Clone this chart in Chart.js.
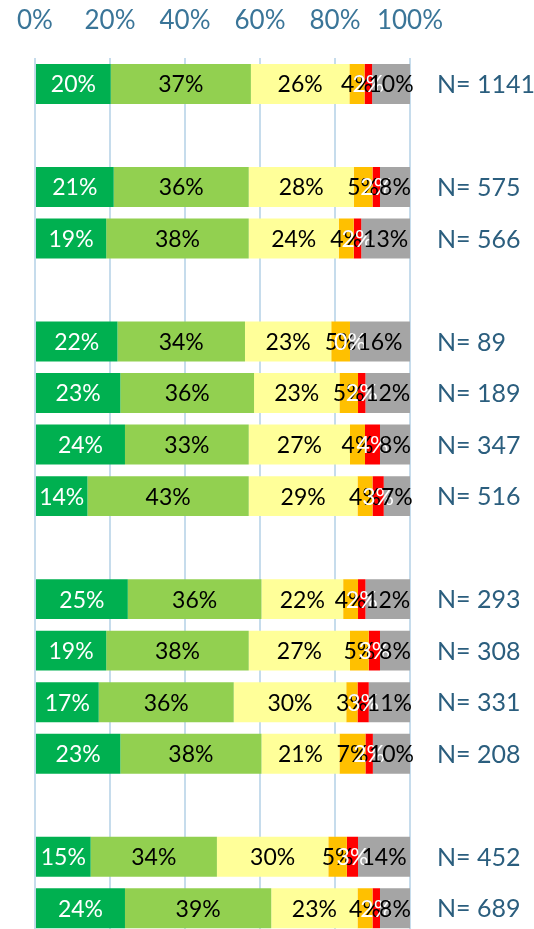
<!DOCTYPE html>
<html>
<head>
<meta charset="utf-8">
<script src="https://cdn.jsdelivr.net/npm/chart.js@4"></script>
<style>
  html, body { margin: 0; padding: 0; background: #fff; overflow: hidden; }
  #chart { display: block; margin-top: -17px; margin-left: -5px; }
</style>
</head>
<body>
<canvas id="chart" width="539" height="957"></canvas>
<script>
// null = empty spacer row between groups
const sampleSizes = [1141, null, 575, 566, null, 89, 189, 347, 516, null, 293, 308, 331, 208, null, 452, 689];
const veryGood = [20, null, 21, 19, null, 22, 23, 24, 14, null, 25, 19, 17, 23, null, 15, 24];
const good     = [37, null, 36, 38, null, 34, 36, 33, 43, null, 36, 38, 36, 38, null, 34, 39];
const neutral  = [26, null, 28, 24, null, 23, 23, 27, 29, null, 22, 27, 30, 21, null, 30, 23];
const poor     = [4,  null, 5,  4,  null, 5,  5,  4,  4,  null, 4,  5,  3,  7,  null, 5,  4];
const veryPoor = [2,  null, 2,  2,  null, 0,  2,  4,  3,  null, 2,  3,  3,  2,  null, 3,  2];
const unknown  = [10, null, 8,  13, null, 16, 12, 8,  7,  null, 12, 8,  11, 10, null, 14, 8];
const xTicks = [0, 20, 40, 60, 80, 100];

const series = [veryGood, good, neutral, poor, veryPoor, unknown];
const colors = ['#00b050', '#92d050', '#ffff99', '#ffc000', '#ff0000', '#a5a5a5'];
const labelColors = ['#ffffff', '#000000', '#000000', '#000000', '#ffffff', '#000000'];

// 100% stacked: each row scaled to its own total, labels keep the read values
const rowTotals = sampleSizes.map((n, j) => n === null ? null : series.reduce((s, a) => s + a[j], 0));

const segLabels = {
  id: 'segLabels',
  afterDatasetsDraw(chart) {
    const ctx = chart.ctx;
    ctx.save();
    ctx.textAlign = 'center';
    ctx.textBaseline = 'middle';
    ctx.font = '23px Lato';
    chart.data.datasets.forEach((ds, i) => {
      const meta = chart.getDatasetMeta(i);
      meta.data.forEach((bar, j) => {
        const v = series[i][j];
        if (v === null) return;
        ctx.fillStyle = labelColors[i];
        ctx.fillText(v + '%', (bar.x + bar.base) / 2, bar.y + 1);
      });
    });
    // N= labels on the right
    ctx.textAlign = 'left';
    ctx.font = '25px Lato';
    ctx.fillStyle = '#2b5e7e';
    const meta0 = chart.getDatasetMeta(0);
    sampleSizes.forEach((n, j) => {
      if (n === null) return;
      ctx.fillText('N= ' + n, chart.chartArea.right + 27, meta0.data[j].y + 1);
    });
    ctx.restore();
  }
};

new Chart(document.getElementById('chart'), {
  type: 'bar',
  data: {
    labels: sampleSizes.map(n => n === null ? '' : 'N= ' + n),
    datasets: series.map((arr, i) => ({
      data: arr.map((v, j) => v === null ? null : v / rowTotals[j] * 100),
      backgroundColor: colors[i],
      borderWidth: 0,
      categoryPercentage: 1,
      barPercentage: 0.775
    }))
  },
  options: {
    indexAxis: 'y',
    responsive: false,
    animation: false,
    layout: { padding: { left: 30, right: 124, top: 0, bottom: 6 } },
    plugins: { legend: { display: false }, tooltip: { enabled: false } },
    scales: {
      x: {
        position: 'top',
        stacked: true,
        min: 0,
        max: 100,
        afterBuildTicks: axis => { axis.ticks = xTicks.map(v => ({ value: v })); },
        ticks: {
          callback: v => v + '%',
          color: '#3a7598',
          font: { family: 'Lato', size: 26 },
          padding: 22
        },
        grid: { color: '#c6dcec', lineWidth: 2, drawTicks: false },
        border: { display: false }
      },
      y: {
        stacked: true,
        display: false
      }
    }
  },
  plugins: [segLabels]
});
</script>
</body>
</html>
